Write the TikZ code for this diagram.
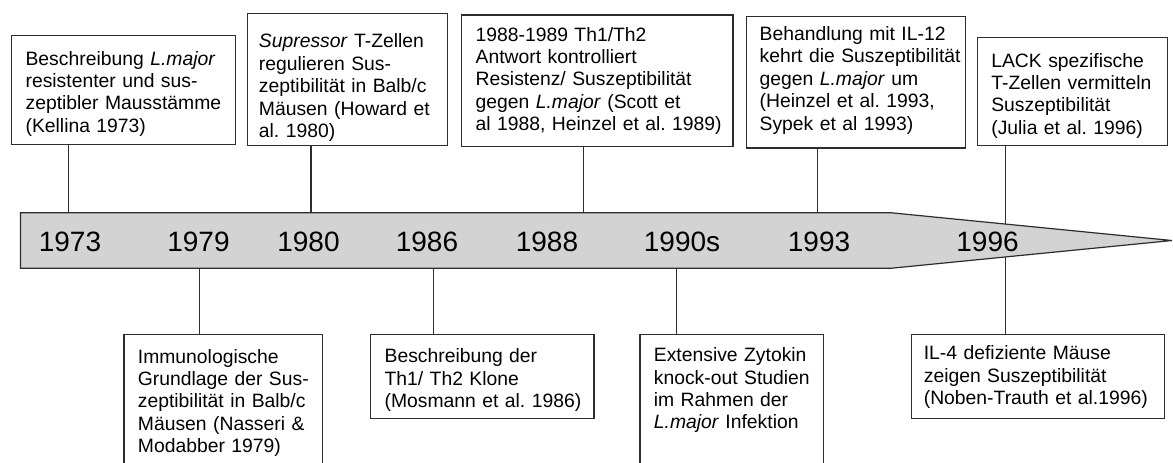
\documentclass[tikz,border=0pt]{standalone}
\usepackage{fontspec}
\setmainfont{Liberation Sans}
\frenchspacing
\definecolor{barfill}{RGB}{211,211,211}
\definecolor{linec}{RGB}{45,45,45}
\newcommand\tlboxfont{\fontsize{14.5pt}{16.8pt}\selectfont\frenchspacing}
\newcommand\tlyearfont{\fontsize{21pt}{25pt}\selectfont}
\newcommand\tlbox[2]{\raggedright\leftskip=#1\relax #2\par}
\tikzset{
  evbox/.style={draw=linec, line width=0.9pt, fill=white, inner sep=0pt, anchor=north west, font=\tlboxfont},
  conn/.style={draw=linec, line width=0.9pt},
  barshape/.style={draw=linec, line width=0.9pt, fill=barfill},
  yearlabel/.style={font=\tlyearfont, anchor=base, inner sep=0pt},
}
\begin{document}
\begin{tikzpicture}[x=0.75pt,y=-0.75pt]
\useasboundingbox (0,0) rectangle (1173,462);
\clip (0,0) rectangle (1173,462);
\fill[white] (0,0) rectangle (1173,462);

% top boxes
\node[evbox, text width=168pt, text height=22.1pt, text depth=59.6pt] (t1) at (11,35)
  {\tlbox{10.5pt}{Beschreibung \textit{L.major}\\resistenter und sus-\\zeptibler Mausstämme\\(Kellina 1973)}};
\node[evbox, text width=150pt, text height=25.65pt, text depth=73.35pt] (t2) at (247,13)
  {\tlbox{8.5pt}{\textit{Supressor} T-Zellen\\regulieren Sus-\\zeptibilität in Balb/c\\Mäusen (Howard et\\al. 1980)}};
\node[evbox, text width=203.5pt, text height=19.65pt, text depth=79.1pt] (t3) at (461,14.3)
  {\tlbox{10.5pt}{1988-1989 Th1/Th2\\Antwort kontrolliert\\Resistenz/ Suszeptibilität\\gegen \textit{L.major} (Scott et\\al 1988, Heinzel et al. 1989)}};
\node[evbox, text width=164.5pt, text height=18.2pt, text depth=80.5pt] (t4) at (745.7,15.7)
  {\tlbox{10pt}{Behandlung mit IL-12\\kehrt die Suszeptibilität\\gegen \textit{L.major} um\\(Heinzel et al. 1993,\\Sypek et al 1993)}};
\node[evbox, text width=142.5pt, text height=22.35pt, text depth=58.9pt] (t5) at (976.7,36.7)
  {\tlbox{10.5pt}{LACK spezifische\\T-Zellen vermitteln\\Suszeptibilität\\(Julia et al. 1996)}};

% bottom boxes
\node[evbox, text width=148.8pt, text height=21.4pt, text depth=105pt] (b1) at (123.3,334)
  {\tlbox{10.5pt}{Immunologische\\Grundlage der Sus-\\zeptibilität in Balb/c\\Mäusen (Nasseri \&\\Modabber 1979)}};
\node[evbox, text width=167.5pt, text height=21.15pt, text depth=41.6pt] (b2) at (370,334)
  {\tlbox{10.5pt}{Beschreibung der\\Th1/ Th2 Klone\\(Mosmann et al. 1986)}};
\node[evbox, text width=137.5pt, text height=20.25pt, text depth=105pt] (b3) at (639.3,334)
  {\tlbox{10.5pt}{Extensive Zytokin\\knock-out Studien\\im Rahmen der\\\textit{L.major} Infektion}};
\node[evbox, text width=190pt, text height=19pt, text depth=43.8pt] (b4) at (910.7,334)
  {\tlbox{9.4pt}{IL-4 defiziente Mäuse\\zeigen Suszeptibilität\\(Noben-Trauth et al.1996)}};

% anchor points on the time bar
\coordinate (k1) at (68.3,240);
\coordinate (k2) at (311,240);
\coordinate (k3) at (583.3,240);
\coordinate (k4) at (817.3,240);
\coordinate (k5) at (1005.3,240);
\coordinate (m1) at (199.3,240);
\coordinate (m2) at (433.3,240);
\coordinate (m3) at (676.7,240);
\coordinate (m4) at (1005.3,240);

% connectors
\draw[conn] (t1.south -| k1) -- (k1);
\draw[conn] (t2.south -| k2) -- (k2);
\draw[conn] (t3.south -| k3) -- (k3);
\draw[conn] (t4.south -| k4) -- (k4);
\draw[conn] (t5.south -| k5) -- (k5);
\draw[conn] (b1.north -| m1) -- (m1);
\draw[conn] (b2.north -| m2) -- (m2);
\draw[conn] (b3.north -| m3) -- (m3);
\draw[conn] (b4.north -| m4) -- (m4);

% time bar arrow
\path[barshape] (20.5,212.7) -- (890.5,212.7) -- (1172,240.5) -- (890.5,268.3) -- (20.5,268.3) -- cycle;

% years
\node[yearlabel] (y1973) at (70,251.5) {1973};
\node[yearlabel] (y1979) at (198.5,251.5) {1979};
\node[yearlabel] (y1980) at (308.5,251.5) {1980};
\node[yearlabel] (y1986) at (427,251.5) {1986};
\node[yearlabel] (y1988) at (547,251.5) {1988};
\node[yearlabel] (y1990) at (682,251.5) {1990s};
\node[yearlabel] (y1993) at (819,251.5) {1993};
\node[yearlabel] (y1996) at (987.5,251.5) {1996};
\end{tikzpicture}
\end{document}
